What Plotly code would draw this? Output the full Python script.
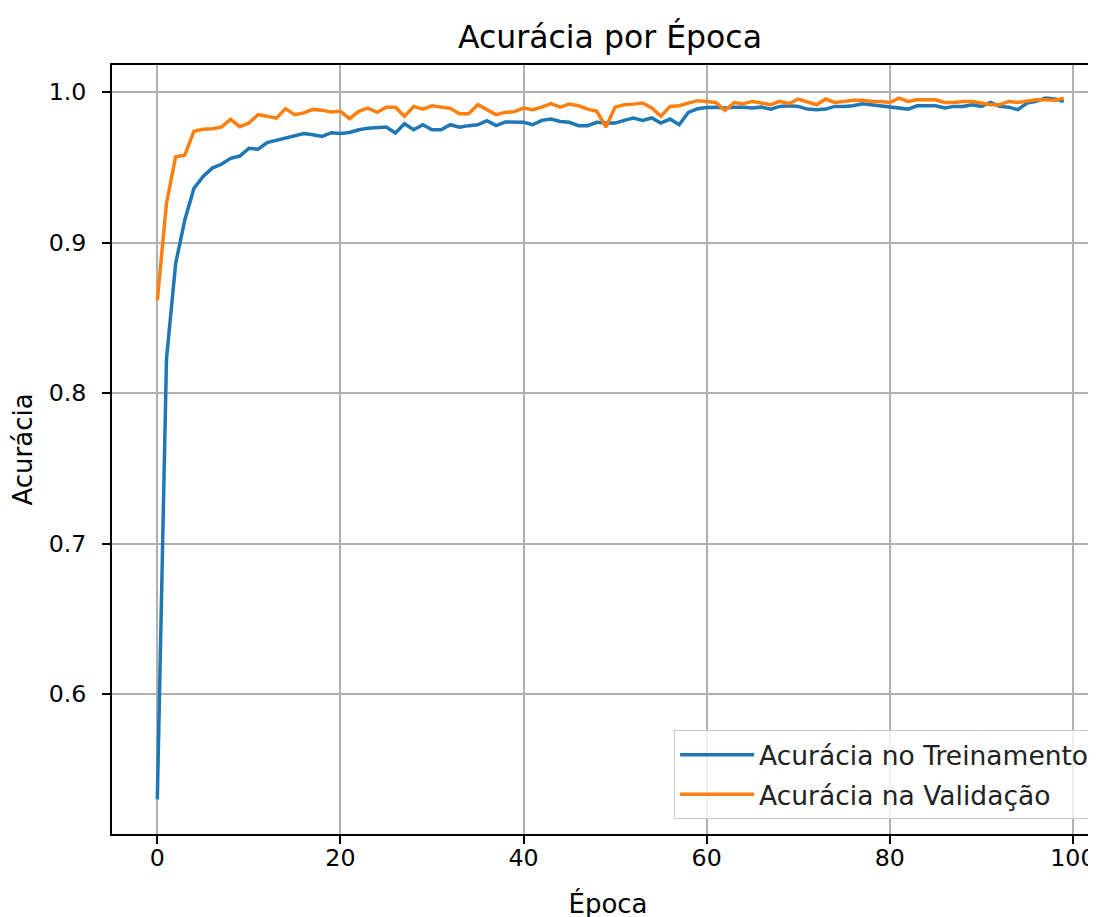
import plotly.graph_objects as go

epochs = list(range(100))

train_acc = [
    0.530, 0.8226, 0.886, 0.915, 0.936, 0.944, 0.9495, 0.952, 0.956, 0.9575,
    0.9626, 0.962, 0.9664, 0.968, 0.9697, 0.9713, 0.9724, 0.9717, 0.9705, 0.973,
    0.9725, 0.9732, 0.9750, 0.9759, 0.9761, 0.9768, 0.9728, 0.9790, 0.9750, 0.9783,
    0.9750, 0.9750, 0.9783, 0.9766, 0.9777, 0.9783, 0.9810, 0.9777, 0.9801, 0.9801,
    0.9799, 0.9783, 0.9812, 0.9821, 0.9805, 0.9799, 0.9777, 0.9777, 0.9799, 0.9794,
    0.9794, 0.9812, 0.9828, 0.9812, 0.9828, 0.9794, 0.9821, 0.9783, 0.9865, 0.9889,
    0.9898, 0.9900, 0.9894, 0.9900, 0.9900, 0.9894, 0.9900, 0.9887, 0.9905, 0.9909,
    0.9905, 0.9887, 0.9883, 0.9887, 0.9905, 0.9905, 0.9909, 0.9923, 0.9916, 0.9905,
    0.9898, 0.9894, 0.9887, 0.9909, 0.9909, 0.9909, 0.9894, 0.9905, 0.9905, 0.9916,
    0.9905, 0.9931, 0.9905, 0.9900, 0.9883, 0.9927, 0.9938, 0.9960, 0.9954, 0.9938,
]

val_acc = [
    0.8616, 0.926, 0.957, 0.958, 0.974, 0.9753, 0.9757, 0.9768, 0.9819, 0.977,
    0.9794, 0.985, 0.984, 0.9827, 0.989, 0.985, 0.9862, 0.9885, 0.988, 0.9867,
    0.9872, 0.9823, 0.9872, 0.9894, 0.9865, 0.9900, 0.9900, 0.9839, 0.9905, 0.9887,
    0.9909, 0.9900, 0.9892, 0.9856, 0.9856, 0.9916, 0.9883, 0.9850, 0.9865, 0.9870,
    0.9894, 0.9883, 0.9900, 0.9923, 0.9900, 0.9920, 0.9909, 0.9887, 0.9872, 0.9768,
    0.9900, 0.9916, 0.9920, 0.9927, 0.9894, 0.9839, 0.9905, 0.9909, 0.9927, 0.9943,
    0.9938, 0.9931, 0.9878, 0.9931, 0.9923, 0.9938, 0.9927, 0.9916, 0.9938, 0.9923,
    0.9954, 0.9938, 0.9916, 0.9954, 0.9931, 0.9938, 0.9945, 0.9945, 0.9938, 0.9938,
    0.9931, 0.9960, 0.9938, 0.9949, 0.9949, 0.9949, 0.9931, 0.9931, 0.9938, 0.9938,
    0.9927, 0.9916, 0.9916, 0.9938, 0.9931, 0.9938, 0.9949, 0.9949, 0.9945, 0.9960,
]

x_ticks = [0, 20, 40, 60, 80, 100]
y_ticks = [0.6, 0.7, 0.8, 0.9, 1.0]
y_tick_labels = ["0.6", "0.7", "0.8", "0.9", "1.0"]

FONT = "DejaVu Sans"

fig = go.Figure()
fig.add_trace(go.Scatter(x=epochs, y=train_acc, mode="lines",
                         name="Acurácia no Treinamento", legendgroup="train",
                         line=dict(color="#1f77b4", width=3.5)))
fig.add_trace(go.Scatter(x=epochs, y=val_acc, mode="lines",
                         name="Acurácia na Validação", legendgroup="val",
                         line=dict(color="#ff7f0e", width=3.5)))

fig.update_layout(
    width=1096, height=917,
    margin=dict(l=104, r=0, t=57, b=91),
    paper_bgcolor="white", plot_bgcolor="white",
    font=dict(family=FONT, size=23, color="black"),
    title=dict(text="Acurácia por Época", x=0.502, xref="paper", xanchor="center",
               y=1 - 29 / 917, yref="container", yanchor="middle",
               font=dict(family=FONT, size=31.5, color="black")),
    showlegend=True,
    legend=dict(x=0.991, y=0.0195, xanchor="right", yanchor="bottom",
                bgcolor="rgba(255,255,255,0.8)", bordercolor="#cccccc", borderwidth=1,
                font=dict(family=FONT, size=26.5, color="#222222"),
                itemwidth=74, tracegroupgap=2),
)

fig.update_xaxes(
    range=[-4.95, 103.4], tickmode="array", tickvals=x_ticks,
    ticks="outside", ticklen=8, tickwidth=1.8, tickcolor="black",
    showline=True, linecolor="black", linewidth=1.8, mirror=True,
    showgrid=True, gridcolor="#b0b0b0", gridwidth=1.8, zeroline=False,
    ticklabeloverflow="allow", automargin=False, ticklabelstandoff=-6,
    tickfont=dict(family=FONT, size=23.7, color="black"),
    title=dict(text="Época", standoff=23, font=dict(family=FONT, size=26, color="black")),
)
fig.update_yaxes(
    range=[0.507, 1.018], tickmode="array", tickvals=y_ticks, ticktext=y_tick_labels,
    ticks="outside", ticklen=8, tickwidth=1.8, tickcolor="black",
    showline=True, linecolor="black", linewidth=1.8, mirror=False,
    showgrid=True, gridcolor="#b0b0b0", gridwidth=1.8, zeroline=False,
    automargin=False, ticklabelstandoff=11,
    tickfont=dict(family=FONT, size=23.7, color="black"),
    title=dict(text="Acurácia", standoff=12, font=dict(family=FONT, size=26, color="black")),
)

fig.write_html("out.html")
